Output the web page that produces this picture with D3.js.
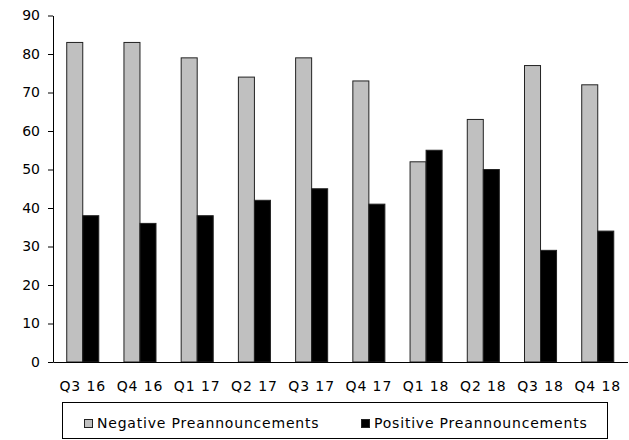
<!DOCTYPE html>
<html>
<head>
<meta charset="utf-8">
<script src="https://cdn.jsdelivr.net/npm/d3@7"></script>
<style>
  html, body { margin: 0; padding: 0; background: #fff; }
  svg { display: block; font-family: "DejaVu Sans", sans-serif; }
</style>
</head>
<body>
<svg id="chart" width="629" height="440"></svg>
<script>
// Quarterly counts of earnings preannouncements
const quarters = ["Q3 16", "Q4 16", "Q1 17", "Q2 17", "Q3 17", "Q4 17", "Q1 18", "Q2 18", "Q3 18", "Q4 18"];
const negativeCounts = [83, 83, 79, 74, 79, 73, 52, 63, 77, 72];
const positiveCounts = [38, 36, 38, 42, 45, 41, 55, 50, 29, 34];
const seriesNames = ["Negative Preannouncements", "Positive Preannouncements"];
const yTicks = [0, 10, 20, 30, 40, 50, 60, 70, 80, 90];

const svg = d3.select("#chart");
const plotLeft = 53, plotRight = 627.5, plotTop = 15.5, plotBottom = 362;

const x = d3.scaleBand().domain(quarters).range([plotLeft, plotRight]).paddingInner(0.44).paddingOuter(0.24);
const inner = d3.scaleBand().domain(seriesNames).range([0, x.bandwidth()]);
const y = d3.scaleLinear().domain([0, 90]).range([plotBottom, plotTop]);
const fills = { [seriesNames[0]]: "#c0c0c0", [seriesNames[1]]: "#000000" };

const rows = quarters.map((q, i) => ({ q, values: [negativeCounts[i], positiveCounts[i]] }));

// Bars
svg.append("g").selectAll("g").data(rows).join("g")
  .attr("transform", d => `translate(${x(d.q)},0)`)
  .selectAll("rect").data(d => d.values.map((v, k) => ({ name: seriesNames[k], v })))
  .join("rect")
  .attr("x", d => inner(d.name))
  .attr("width", inner.bandwidth())
  .attr("y", d => y(d.v))
  .attr("height", d => y(0) - y(d.v))
  .attr("fill", d => fills[d.name])
  .attr("stroke", "#222")
  .attr("stroke-width", 1);

// Y axis
const yAxis = svg.append("g").attr("transform", `translate(${plotLeft},0)`)
  .call(d3.axisLeft(y).tickValues(yTicks).tickSize(5).tickPadding(8).tickSizeOuter(0));
yAxis.select(".domain").attr("stroke", "#000");
yAxis.selectAll(".tick line").attr("stroke", "#000");
yAxis.selectAll("text").attr("font-size", 14).attr("fill", "#000").attr("font-family", "DejaVu Sans");

// X axis
const xAxis = svg.append("g").attr("transform", `translate(0,${plotBottom})`)
  .call(d3.axisBottom(x).tickSize(0).tickPadding(19).tickSizeOuter(0));
xAxis.select(".domain").attr("stroke", "#000");
xAxis.selectAll("text").attr("font-size", 14).attr("fill", "#000")
  .attr("font-family", "DejaVu Sans").attr("letter-spacing", "0.9px");

// Legend
const legend = svg.append("g");
legend.append("rect").attr("x", 62.5).attr("y", 402.5).attr("width", 545).attr("height", 36)
  .attr("fill", "#fff").attr("stroke", "#000");
const legendX = [84, 361];
seriesNames.forEach((name, k) => {
  legend.append("rect").attr("x", legendX[k] + 0.5).attr("y", 419.5).attr("width", 8).attr("height", 8)
    .attr("fill", fills[name]).attr("stroke", "#222");
  legend.append("text").attr("x", legendX[k] + 13).attr("y", 427.5)
    .attr("font-size", 14).attr("fill", "#000").attr("letter-spacing", "0.8px").text(name);
});
</script>
</body>
</html>
